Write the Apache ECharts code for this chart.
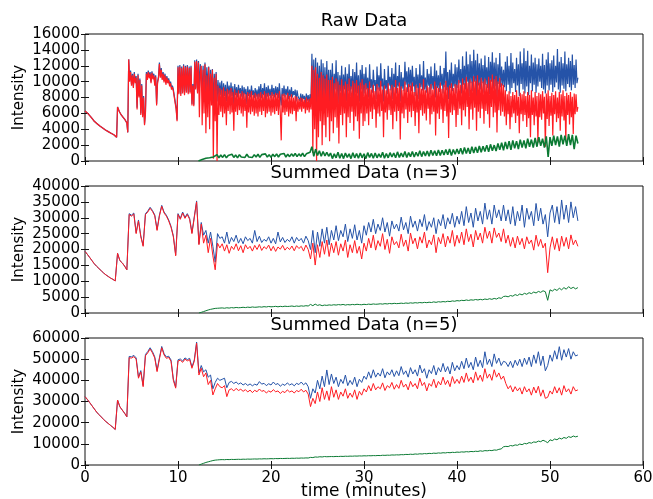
<!DOCTYPE html>
<html>
<head>
<meta charset="utf-8">
<script src="https://cdn.jsdelivr.net/npm/echarts@6/dist/echarts.min.js"></script>
<style>
  html, body { margin: 0; padding: 0; background: #fff; }
  #chart { width: 653px; height: 499px; }
</style>
</head>
<body>
<div id="chart"></div>
<script>
// time step (minutes) between samples in each panel
const rawStep = 0.1
const rawGreenStep = 0.2
const sumStep = 0.25
const rawGreenStart = 12.2 // green trace only starts here
const sumGreenStart = 12.25

// ---- Raw Data ----
const rawBlue = [
  6300, 6200, 6100, 6000, 5900, 5750, 5600, 5450, 5300, 5150, 5000,
  4900, 4800, 4700, 4600, 4500, 4400, 4300, 4200, 4150, 4100,
  4000, 3900, 3850, 3800, 3700, 3600, 3550, 3500, 3450, 3400,
  3300, 3200, 3100, 3000, 6800, 6500, 6200, 6000, 5800, 5600,
  5500, 5400, 5200, 5000, 4800, 3600, 12800,
  10200, 11400, 9700, 11000, 9400, 11200, 10000, 10700, 6700, 11000, 8200, 10400,
  6000, 9700, 5700, 8200, 4700, 6200,
  11200, 10400, 11400, 10600, 11200, 10000, 11300, 10500, 11000, 9700, 10800, 7200, 10000, 10600,
  12400, 10700, 11700, 10400, 11200, 10100, 11000, 9800, 10700, 10000, 10400, 9600, 10000, 9200, 9500, 9000, 9200, 8800, 6700, 5200,
  12000, 8600, 12100, 8400, 11900, 8700, 12200, 8500, 12000, 8800, 12100, 8600, 11900, 8700, 12000, 7200, 9700, 7100,
  12700, 9200, 12800, 8700, 12600, 9000, 12200,
  12300, 9000, 12000, 8500, 12400, 8000, 11800, 9000, 11900, 8000, 11500, 8500, 11600, 7000, 11000, 8000, 11200, 7500,
  10200, 8000, 9900, 8300, 10100, 7800, 9800, 8200, 9600, 7500,
  10000, 8400, 9500, 8000, 9900, 8200, 9400, 7000, 9700, 8300,
  9300, 8000, 9600, 8500, 9200, 8100, 9500, 7800, 9300, 8400,
  9100, 7200, 9400, 8200, 9000, 8000, 9500, 8300, 8900, 7900,
  9200, 8100, 9000,
  7800, 9400, 8000, 9700, 7900, 9200, 8300, 9800, 7600, 9300,
  8100, 9500, 8200, 9100, 7900, 9600, 8200, 9200, 8000, 9400,
  8300, 9300, 7900, 9800, 8100, 7000, 9200, 8200, 9500, 8000,
  9100, 8300, 9400, 7800, 9000, 8100, 9300, 8000, 8800, 8300,
  9000, 7500, 8900, 8200,
  8300, 7600, 8500, 7400, 8400, 7800, 8200, 7200, 8500, 7600, 8300, 7300, 8400, 7700,
  13500, 8000, 12800, 7500, 13000, 6000, 12400, 8000, 12000, 8500,
  12800, 7000, 12300, 8000, 11800, 7500, 12600, 8500, 11500, 7500,
  11500, 8500, 12300, 7500, 11000, 9000, 12700, 8000, 11200, 7200,
  10800, 8800, 12000, 8000, 10900, 9000, 11800, 7500, 11000, 8800,
  12200, 8200, 10700, 9000, 11600, 7800, 11200, 8600, 12400, 8500,
  10800, 7500, 11500, 9000, 12100, 8200, 11000,
  8500, 11800, 9000, 10500, 8000, 12200, 9200, 10300, 8600, 11500,
  9500, 10200, 7800, 11900, 9000, 10800, 8800, 12300, 9400, 10400,
  7500, 11600, 9100, 10200, 8400, 12000, 9500, 10600, 8900, 11700,
  7800, 11000, 9300, 12400, 8500, 10700, 9400, 12100, 7500, 11200,
  9100, 10500, 8800, 12500, 9600, 11300, 8700, 11800, 9300, 11500,
  8800, 12000, 9400, 10600, 8200, 11700, 9200, 10900, 7800, 12200,
  9300, 10800, 8900, 12600, 9000, 10500, 8600, 11600, 9500, 11000,
  8400, 11900, 9100, 10700, 9000, 12300, 8000, 11400, 9200, 10800,
  8700, 12000, 9500, 11000, 8500, 11700, 9300, 13800, 8900, 11200,
  7800, 11500, 9200, 12400, 8800, 11000, 9400, 12200, 8500, 11800,
  9200, 12800, 9800, 11600, 8500, 13200, 9600, 12000, 9000, 13800,
  10000, 12200, 8200, 13400, 9800, 12600, 8800, 14000, 10000, 12700,
  8000, 13500, 9500, 12300, 9000, 12900, 9800, 12100, 8600, 13300,
  9600, 11800, 9200, 13100, 8400, 12500, 10000, 13700, 9100, 12400,
  9400, 13000, 8000, 12200, 9700, 13600, 9300, 11900, 9500, 11500,
  9300, 12500, 8800, 13200, 9600, 12000, 8500, 13600, 9200, 12400,
  9800, 11600, 8700, 13000, 9500, 12200, 8200, 13800, 9700, 12300,
  9000, 14200, 8500, 12600, 9400, 13900, 8300, 12000, 9800, 13400,
  8800, 12400, 9600, 13000, 8600, 12200, 9400, 12900, 10000, 12000,
  9200, 13500, 9000, 12100, 8500, 12800, 9500, 13700, 8900, 12300,
  9600, 12700, 8700, 13300, 9300, 12000, 9900, 14100, 9000, 12500,
  8600, 13100, 9500, 12300, 9100, 13800, 8800, 12200, 9700, 13000,
  9300, 12600, 8900, 13400, 9600, 12100, 9200, 12800, 9800, 10500
]
const rawRed = [
  6300, 6200, 6100, 6000, 5900, 5750, 5600, 5450, 5300, 5150, 5000,
  4900, 4800, 4700, 4600, 4500, 4400, 4300, 4200, 4150, 4100,
  4000, 3900, 3850, 3800, 3700, 3600, 3550, 3500, 3450, 3400,
  3300, 3200, 3100, 3000, 6800, 6500, 6200, 6000, 5800, 5600,
  5500, 5400, 5200, 5000, 4800, 3600, 12800,
  10000, 11200, 9500, 10800, 9200, 11000, 9800, 10500, 6500, 10800, 8000, 10200,
  5800, 9500, 5500, 8000, 4500, 6000,
  11000, 10200, 11200, 10400, 11000, 9800, 11100, 10300, 10800, 9500, 10600, 7000, 9800, 10400,
  12200, 10500, 11500, 10200, 11000, 9900, 10800, 9600, 10500, 9800, 10200, 9400, 9800, 9000, 9300, 8800, 9000, 8600, 6500, 5000,
  11800, 8400, 11900, 8200, 11700, 8500, 12000, 8300, 11800, 8600, 11900, 8400, 11700, 8500, 11800, 7000, 9500, 6900,
  12500, 9000, 12600, 8500, 12400, 5500, 11000,
  12000, 4500, 11500, 6000, 12200, 3500, 10800, 5500, 11800, 4000, 11000, 7000, 11500, 300, 10500, 5000, 11000, 0,
  9500, 5800, 9200, 6200, 9000, 5500, 9300, 6000, 8800, 4500,
  9100, 6300, 8900, 5900, 9200, 6100, 8700, 3800, 9000, 6200,
  8600, 5800, 8900, 6400, 8500, 6000, 8800, 5600, 8600, 6300,
  8400, 4200, 8700, 6100, 8500, 5900, 8800, 6200, 8300, 5700,
  8600, 6000, 8400,
  5600, 8500, 6200, 8700, 5800, 8400, 6300, 8800, 5500, 8500,
  6000, 8600, 6200, 8300, 5700, 8700, 6100, 8400, 5900, 8600,
  6300, 8500, 5800, 8800, 6000, 2600, 8400, 6100, 8500, 5800,
  8300, 6200, 8600, 5600, 8200, 6000, 8400, 5900, 8000, 6300,
  8200, 5000, 8100, 6200,
  7800, 6500, 8000, 6200, 7900, 6600, 7700, 6000, 8000, 6400, 7800, 6100, 7900, 6500,
  12000, 1000, 11500, 4000, 11800, 0, 11000, 3000, 10500, 5000,
  11200, 2000, 10800, 4500, 10400, 3000, 10900, 5500, 10200, 2500,
  10200, 5000, 10600, 3500, 9800, 5500, 10400, 4200, 10000, 2200,
  9600, 5800, 10300, 4500, 9500, 6000, 10000, 3000, 9700, 5500,
  10400, 4800, 9400, 6200, 10100, 3800, 9800, 5600, 10200, 5000,
  9500, 2800, 9900, 6000, 10300, 4400, 9600,
  5000, 9800, 6000, 9200, 4500, 10000, 6200, 9000, 5300, 9600,
  6500, 8800, 4200, 9700, 6000, 9300, 5600, 10100, 6300, 9000,
  3000, 9500, 6100, 8900, 5200, 9800, 6400, 9100, 5800, 9600,
  4000, 9300, 6200, 10200, 5000, 9200, 6300, 9900, 2700, 9400,
  6000, 9000, 5400, 10000, 6500, 9300, 4800, 9700, 6200, 9500,
  5500, 9900, 6300, 8700, 4400, 9600, 6100, 9200, 3500, 9800,
  6400, 9100, 5700, 10300, 6000, 8900, 5100, 9500, 6600, 9300,
  4600, 9700, 5900, 9000, 6200, 10000, 3200, 9400, 6000, 9200,
  5300, 9900, 6500, 9100, 4800, 9600, 6300, 10100, 5600, 9300,
  2900, 9500, 6100, 9800, 5800, 9200, 6400, 9700, 4300, 9600,
  5800, 10200, 6600, 9600, 4500, 10400, 6400, 9800, 5600, 10600,
  6800, 9900, 4000, 10300, 6500, 10000, 5200, 10700, 6700, 10100,
  3800, 10800, 6200, 9900, 5400, 10500, 6600, 10000, 4700, 10400,
  6300, 9700, 5900, 10600, 4200, 10200, 6800, 10900, 5500, 10300,
  6100, 10700, 3600, 10000, 6400, 10500, 5700, 9800, 6200, 9600,
  5600, 8900, 4500, 8400, 5900, 8800, 4000, 8200, 5500, 8700,
  6000, 8300, 4800, 8900, 5700, 8100, 3500, 8600, 5900, 8400,
  5000, 8800, 5800, 8200, 4300, 8700, 5400, 8300, 3000, 8900,
  5800, 8000, 4500, 8700, 5600, 8200, 2300, 8600, 5500, 8400,
  5200, 8800, 6000, 8100, 1800, 8500, 5300, 8900, 4400, 8200,
  5700, 8600, 3200, 8300, 5900, 8800, 4900, 8000, 5400, 8700,
  3800, 8400, 5600, 8900, 5100, 8200, 2500, 8600, 5800, 8300,
  4600, 8700, 5500, 8100, 3400, 8500, 5900, 8400, 6200, 6800
]
const rawGreen = [
  0, 100, 200, 300, 350, 450, 400, 550, 500, 600,
  800, 400, 750, 450, 800, 400, 700, 500, 850, 450,
  750, 400, 800, 500, 700, 450, 850, 500, 750, 450,
  800, 500, 850, 450, 800, 550, 900, 500, 800, 450,
  850, 550, 900, 500, 850, 600, 950, 500, 850, 550,
  900, 600, 950, 550, 900, 600, 1000, 550, 900, 650,
  1100, 1800, 600, 1500, 700, 1300, 600, 1200, 650, 1100,
  600,
  1000, 300, 900, 400, 1100, 350, 950, 300, 1000, 450,
  900, 300, 1050, 400, 950, 350, 1000, 400, 900, 300,
  1050, 450, 950, 350, 1000, 400, 900, 450, 1100, 350,
  950, 400, 1050, 500, 1000, 400, 1150, 450, 1000, 500,
  1200, 450, 1050, 550, 1200, 500, 1100, 600, 1300, 550,
  1200, 650, 1250, 600, 1350, 700, 1300, 650, 1400, 700,
  1350, 750, 1450, 800, 1500, 700, 1450, 850, 1500,
  900, 1600, 850, 1700, 950, 1650, 900, 1800, 1000, 1750,
  1050, 1900, 1100, 1850, 1200, 2000, 1150, 2100, 1300, 2000,
  1250, 2200, 1400, 2300, 1350,
  2400, 1500, 2500, 1400, 2600, 1600, 2500, 1500, 2700, 1700,
  2600, 1600, 2800, 1800, 2700, 1700, 2900, 1800, 3000, 1900,
  2800, 1700, 3100, 500, 3000, 1900, 3200, 2000, 3100, 1800,
  3300, 2100, 3200, 1900, 3400, 2000, 3300, 1500, 3200, 2200
]

// ---- Summed Data (n=3) ----
const sum3Blue = [
  19400, 18500, 17500, 16500, 15500, 14700, 14000, 13300, 12600, 12000, 11500, 11000, 10600, 10100, 18800, 16500, 15800, 14800, 13600,
  31300, 30800, 31500, 25300, 29300, 24300, 21300, 31300, 32100, 33300, 32300, 30900, 26300, 30800, 33900, 31800, 30800, 29300, 27300, 24300, 18300, 31300, 29800, 31800, 30100, 31300, 29800, 25300, 30300, 35300, 21800,
  28500, 24500, 26000, 22000, 25500, 21000, 16000, 25000, 23500,
  24000, 22000, 25500, 21800, 23800, 22500, 24500, 22000, 23500, 21800,
  24000, 22800, 23500, 22000, 26000, 22500, 24200, 22200, 23200, 22600,
  24000, 22000, 23500, 21800, 25500, 22400, 23800, 22200, 23200, 22500,
  24000, 22000, 23800, 22700, 23500, 22000, 24200, 22800, 20000, 26000,
  19000, 25500, 21000, 26500, 22000, 27000, 21500, 26000,
  23000, 27500, 22800, 26000, 24000, 28000, 22500, 26500, 23500, 27800, 23000, 26000, 22000, 27500,
  24500, 28500, 25500, 29500, 25000, 28000, 26000, 30000, 25500, 28500,
  24200, 29000, 26500, 28000, 25800, 30200, 26200, 28500, 25000, 30500,
  27000, 29000, 25800, 29500, 27200, 31000, 26000, 28800, 27000, 30000,
  25000, 29500, 27500, 31000, 26500, 30000, 28000, 31400, 27000, 30500,
  28000, 32000, 27500, 33500, 28500, 31500, 27000, 33000, 29000, 32000,
  28000, 34600, 29500, 32500, 28000, 34000, 30000, 32500, 29000, 34000,
  29000, 32500, 28000, 33500, 27500, 32000, 29000, 34000, 27000, 33000,
  29500, 32000, 27500, 34500, 29000, 33000, 28000, 31000, 24000, 31500,
  34000, 28500, 33500, 28000, 35600, 29500, 34000, 28500, 35000, 30000,
  33500, 29000
]
const sum3Red = [
  19400, 18500, 17500, 16500, 15500, 14700, 14000, 13300, 12600, 12000, 11500, 11000, 10600, 10100, 18800, 16500, 15800, 14800, 13600,
  31000, 30500, 31200, 25000, 29000, 24000, 21000, 31000, 31800, 33000, 32000, 30600, 26000, 30500, 33600, 31500, 30500, 29000, 27000, 24000, 18000, 31000, 29500, 31500, 29800, 31000, 29500, 25000, 30000, 35000, 21500,
  28000, 22000, 24500, 19000, 23500, 18000, 13600, 22000, 20500,
  21800, 19500, 21500, 18800, 21000, 20000, 21800, 19600, 21200, 19000,
  21500, 20200, 21000, 19500, 21300, 20000, 21600, 19700, 20900, 20200,
  21400, 19600, 21000, 19400, 20800, 20100, 21300, 19800, 20700, 20000,
  21100, 19600, 21200, 20300, 21000, 19500, 21400, 20000, 17000, 22000,
  15100, 21500, 17500, 22500, 18500, 23000, 17800, 22000,
  19000, 22500, 18200, 21800, 19500, 23000, 17500, 21500, 19000, 22800, 18800, 21000, 17000, 22000,
  19500, 23500, 20500, 24500, 19800, 22800, 21000, 25000, 20000, 23200,
  18800, 24000, 21500, 22500, 20500, 24800, 21000, 23000, 19500, 25200,
  21800, 23600, 20200, 24000, 22000, 25500, 20500, 23000, 21500, 24600,
  19000, 23800, 21800, 25000, 20800, 24200, 22000, 26000, 21000, 24500,
  22000, 25500, 21500, 26500, 22500, 24800, 20800, 26000, 23000, 25200,
  22000, 27000, 23500, 25800, 22000, 26800, 23800, 25200, 22500, 26500,
  22000, 24500, 21000, 23800, 20500, 24200, 21500, 23500, 20200, 24000,
  21800, 23000, 19800, 24500, 21000, 23200, 20500, 22000, 12700, 20500,
  24000, 20000, 23500, 19500, 24200, 21000, 23800, 20200, 24600, 21500,
  23000, 21000
]
const sum3Green = [
  0, 200, 450, 700, 950, 1150, 1300, 1450, 1500, 1550,
  1600, 1500, 1650, 1550, 1700, 1600, 1750, 1650, 1700, 1800,
  1700, 1850, 1750, 1900, 1800, 1850, 1950, 1850, 2000, 1900,
  2050, 1950, 2000, 2100, 1950, 2100, 2000, 2150, 2050, 2100,
  2200, 2050, 2200, 2100, 2250, 2150, 2300, 2200, 2700, 2300,
  2800, 2400, 2600, 2300, 2500,
  2400, 2550, 2450, 2600, 2500, 2650, 2550, 2700, 2500, 2650,
  2550, 2700, 2600, 2750, 2650, 2600, 2750, 2650, 2800, 2700,
  2850, 2750, 2800, 2900, 2800, 2950, 2850, 3000, 2900, 3050,
  2950, 3000, 3100, 3000, 3150, 3050, 3200, 3100, 3250, 3150,
  3300, 3200, 3350, 3250, 3400, 3300, 3500, 3350, 3550, 3450,
  3600, 3500, 3700, 3600, 3800, 3700, 3900,
  3800, 4000, 3900, 4100, 3950, 4150, 4050, 4250, 4100, 4300,
  4150, 4400, 4250, 4500, 4300, 4600, 4400, 4800, 4600, 5200,
  5300, 5100, 5500, 5300, 5800, 5500, 6000, 5700, 6200, 5900,
  6400, 6100, 6600, 6300, 6800, 6500, 7000, 6700, 4000, 7300,
  6900, 7500, 7100, 7800, 7300, 8000, 7500, 8300, 7700, 8100,
  7600, 8000
]

// ---- Summed Data (n=5) ----
const sum5Blue = [
  32300, 31000, 29500, 28000, 26500, 25000, 23800, 22700, 21500, 20500, 19600, 18700, 17800, 16800, 30700, 27500, 26000, 24500, 22800,
  51300, 51100, 51800, 50600, 41600, 44600, 37600, 52200, 53600, 55400, 53600, 51100, 44700, 50600, 56000, 52600, 51000, 51400, 49600, 40600, 36900, 49700, 50100, 49100, 50600, 49800, 50400, 46300, 49600, 58100,
  43500, 47000, 44000, 45000, 41500, 42500, 36000, 39000, 41000, 40000, 40500, 41000, 36500, 39000,
  39500, 38500, 39200, 38200, 38800, 37800, 38500, 37600, 38300, 37400,
  38200, 37700, 39400, 38200, 38600, 37500, 38400, 37800, 39200, 38000,
  38500, 37200, 38200, 37600, 38800, 37800, 38400, 37400, 38600, 38000,
  39200, 37900, 38800, 37000, 31500, 36000, 34000, 40000, 36000, 42000,
  37000, 44900, 38000, 43000,
  38500, 41500, 37000, 40500, 38500, 42500, 37500, 40000, 38000, 41500, 37000, 40500, 39000, 42000,
  40500, 44000, 41000, 45000, 41500, 43500, 42000, 45500, 41200, 44000,
  42500, 45000, 41800, 44500, 42200, 46500, 42800, 44500, 41500, 46000,
  43000, 45000, 42000, 47200, 43500, 45500, 41000, 45000, 43200, 47000,
  42500, 46000, 44000, 48000, 44000, 46500, 43000, 48500, 44500, 47000,
  45000, 49000, 45500, 50500, 46000, 48500, 45000, 51000, 46500, 49500,
  46000, 53500, 47500, 50000, 46500, 52500, 48000, 50500, 47000, 49000,
  48500, 46500, 49000, 46000, 49500, 47000, 50000, 46500, 50500, 47500,
  51000, 46500, 52000, 48000, 53500, 47000, 51500, 44500, 47000, 52000,
  49000, 54000, 50000, 55900, 49500, 54500, 51000, 55000, 50000, 53500,
  51500, 52000
]
const sum5Red = [
  32300, 31000, 29500, 28000, 26500, 25000, 23800, 22700, 21500, 20500, 19600, 18700, 17800, 16800, 30700, 27500, 26000, 24500, 22800,
  50700, 50500, 51200, 50000, 41000, 44000, 37000, 51600, 53000, 54800, 53000, 50500, 44100, 50000, 55400, 52000, 50400, 50800, 49000, 40000, 36300, 49100, 49500, 48500, 50000, 49200, 49800, 45700, 49000, 57500,
  42500, 45700, 41700, 43500, 38000, 40000, 33100, 36000, 38500, 37000, 36500, 37500, 32300, 35500,
  36000, 35000, 36200, 35200, 35800, 34800, 35600, 34500, 35400, 34200,
  35300, 34600, 35900, 34800, 35200, 34000, 35000, 34400, 35600, 34600,
  35000, 33800, 34800, 34200, 35500, 34500, 35000, 34000, 35200, 34600,
  35800, 34500, 35300, 33500, 27600, 31500, 29000, 34500, 30000, 36500,
  31000, 35000, 30500, 37000,
  32000, 35500, 31000, 34500, 32500, 36000, 31500, 34000, 32000, 35500, 31000, 34800, 33000, 36000,
  34500, 37500, 35000, 38500, 35500, 37000, 36000, 38800, 35200, 37500,
  36500, 39000, 35800, 38000, 36200, 40000, 36800, 38200, 35500, 39500,
  37000, 38500, 36000, 41000, 37500, 39000, 35000, 38500, 37200, 40500,
  36500, 39500, 37800, 41500, 38000, 40000, 37000, 41800, 38500, 40500,
  38500, 42000, 39000, 43500, 39500, 41500, 38800, 44000, 40000, 42500,
  39500, 45500, 41000, 43000, 40000, 45000, 41500, 43500, 40500, 42000,
  38500, 36000, 37500, 34500, 37000, 35000, 36500, 33500, 37000, 34500,
  36000, 33000, 36800, 34000, 37200, 32500, 35500, 31500, 32000, 35000,
  33500, 37000, 34000, 36500, 33000, 37500, 34500, 36000, 33500, 37000,
  35000, 35500
]
const sum5Green = [
  0, 400, 800, 1200, 1500, 1800, 2100, 2300, 2400, 2500,
  2550, 2500, 2600, 2550, 2650, 2600, 2650, 2700, 2650, 2750,
  2700, 2800, 2750, 2800, 2850, 2800, 2900, 2850, 2950, 2900,
  2950, 3000, 2950, 3050, 3000, 3100, 3050, 3100, 3150, 3100,
  3200, 3150, 3250, 3200, 3300, 3250, 3350, 3300, 3600, 3500,
  3800, 3700, 3900, 3800, 4000, 3900,
  3950, 4000, 3950, 4050, 4000, 4100, 4050, 4150, 4100, 4200,
  4150, 4250, 4200, 4300, 4250, 4350, 4300, 4400, 4350, 4450,
  4400, 4500, 4450, 4600, 4550, 4650, 4600, 4750, 4700, 4800,
  4750, 4900, 4850, 5000, 4950, 5100, 5000, 5200, 5100, 5300,
  5200, 5400, 5300, 5500, 5400, 5600, 5500, 5700, 5600, 5800,
  5700, 5900, 5800, 6000, 5900, 6100,
  6000, 6200, 6100, 6300, 6200, 6400, 6300, 6500, 6400, 6700,
  6500, 6800, 6700, 6900, 6800, 7100, 7000, 7400, 7600, 8600,
  8800, 8700, 9200, 9000, 9500, 9300, 9900, 9600, 10200, 10000,
  10600, 10300, 10900, 10700, 11300, 11000, 11700, 11200, 10500, 11900,
  11500, 12300, 11900, 12700, 12300, 13000, 12600, 13400, 13000, 13700,
  13300, 13600
]

const titles = ['Raw Data', 'Summed Data (n=3)', 'Summed Data (n=5)']
const yMax = [16000, 40000, 60000]
const yStep = [2000, 5000, 10000]
const xTicks = { min: 0, max: 60, interval: 10 }

const BLUE = '#2553a8'
const RED = '#ff1c22'
const GREEN = '#0b7a33'
const FONT = 'DejaVu Sans'

const gridTop = [34, 186, 338]
const gridH = 127
const gridLeft = 85
const gridW = 558

function pairs(vals, start, step) {
  return vals.map((v, i) => [+(start + i * step).toFixed(3), v])
}

const chart = echarts.init(document.getElementById('chart'))

const grids = gridTop.map(t => ({
  left: gridLeft, top: t, width: gridW, height: gridH,
  outerBoundsMode: 'none', containLabel: false,
  show: true, borderColor: '#111', borderWidth: 1, backgroundColor: '#fff'
}))

const tick = { inside: true, length: 4, lineStyle: { color: '#111' } }

const xAxes = []
const yAxes = []
for (let g = 0; g < 3; g++) {
  const last = g === 2
  xAxes.push({
    gridIndex: g, type: 'value', min: xTicks.min, max: xTicks.max, interval: xTicks.interval,
    axisLine: { show: false }, axisTick: tick, splitLine: { show: false },
    axisLabel: { show: last, color: '#000', fontSize: 15, fontFamily: FONT, margin: 6 },
    name: last ? 'time (minutes)' : '', nameLocation: 'middle', nameGap: 18, nameMoveOverlap: false,
    nameTextStyle: { color: '#000', fontSize: 17, fontFamily: FONT }
  })
  yAxes.push({
    gridIndex: g, type: 'value', min: 0, max: yMax[g], interval: yStep[g],
    axisLine: { show: false }, axisTick: tick, splitLine: { show: false },
    axisLabel: { color: '#000', fontSize: 15, fontFamily: FONT, margin: 5, formatter: v => String(v) },
    name: 'Intensity', nameLocation: 'middle', nameRotate: 90, nameGap: 58, nameMoveOverlap: false,
    nameTextStyle: { color: '#000', fontSize: 15, fontFamily: FONT }
  })
}
for (let g = 0; g < 3; g++) {
  xAxes.push({
    gridIndex: g, type: 'value', position: 'top', min: xTicks.min, max: xTicks.max, interval: xTicks.interval,
    axisLine: { show: false }, axisTick: tick, axisLabel: { show: false }, splitLine: { show: false }
  })
  yAxes.push({
    gridIndex: g, type: 'value', position: 'right', min: 0, max: yMax[g], interval: yStep[g],
    axisLine: { show: false }, axisTick: tick, axisLabel: { show: false }, splitLine: { show: false }
  })
}

function line(g, data, color, width) {
  return {
    type: 'line', xAxisIndex: g, yAxisIndex: g, data: data,
    showSymbol: false, symbol: 'none',
    lineStyle: { width: width, color: color }, itemStyle: { color: color },
    silent: true
  }
}

const series = [
  line(0, pairs(rawBlue, 0, rawStep), BLUE, 1.2),
  line(0, pairs(rawRed, 0, rawStep), RED, 1.2),
  line(0, pairs(rawGreen, rawGreenStart, rawGreenStep), GREEN, 1.6),
  line(1, pairs(sum3Blue, 0, sumStep), BLUE, 1),
  line(1, pairs(sum3Red, 0, sumStep), RED, 1),
  line(1, pairs(sum3Green, sumGreenStart, sumStep), GREEN, 1),
  line(2, pairs(sum5Blue, 0, sumStep), BLUE, 1),
  line(2, pairs(sum5Red, 0, sumStep), RED, 1),
  line(2, pairs(sum5Green, sumGreenStart, sumStep), GREEN, 1)
]

const titleTops = [12, 164, 316]
const graphic = titles.map((t, i) => ({
  type: 'text', x: gridLeft + gridW / 2, y: titleTops[i],
  style: { text: t, fill: '#000', font: '18px "DejaVu Sans"', textAlign: 'center', textVerticalAlign: 'top' }
}))

chart.setOption({
  animation: false,
  backgroundColor: '#fff',
  textStyle: { fontFamily: FONT },
  grid: grids,
  xAxis: xAxes,
  yAxis: yAxes,
  series: series,
  graphic: graphic
})
</script>
</body>
</html>
